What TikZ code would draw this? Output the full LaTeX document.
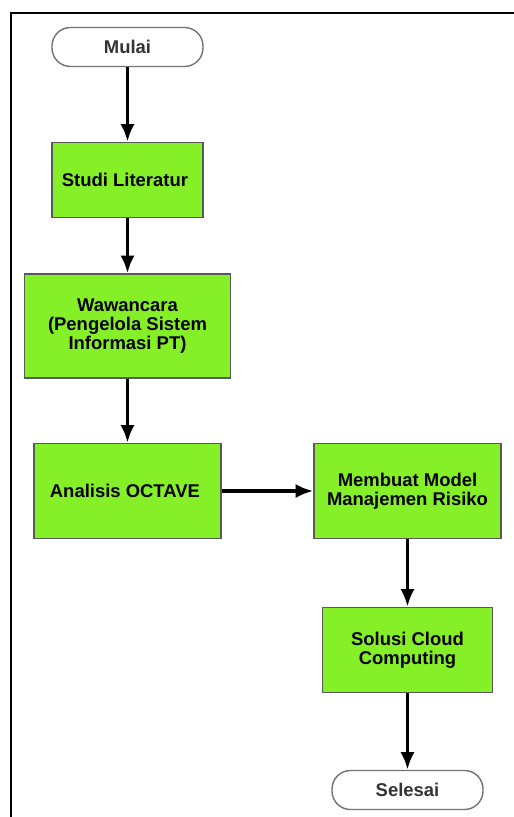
\documentclass[tikz,border=0pt]{standalone}
\usepackage{fontspec}
\setmainfont{Liberation Sans}
\usetikzlibrary{arrows.meta,positioning}
\definecolor{boxgreen}{RGB}{133,240,40}

\begin{document}
\begin{tikzpicture}[
every node/.style={font=\fontsize{10.5}{11}\selectfont\bfseries},
proses/.style={rectangle, fill=boxgreen, draw=black!65, line width=0.8pt, align=center, inner sep=2pt},
terminal/.style={rectangle, rounded corners=0.37cm, fill=white, draw=black!55, line width=0.8pt,
minimum width=3.02cm, minimum height=0.78cm, text=black!80},
panah/.style={-{Latex[length=10pt,width=8pt]}, line width=2pt}]

\useasboundingbox (0,0) rectangle (10.28,-16.34);

% bingkai
\draw[line width=1.2pt] (0.22,-16.34) -- (0.22,-0.26) -- (10.28,-0.26);

\node[terminal] at (2.55, -0.94) (mulai) {Mulai};

\node[proses, minimum width=3.02cm, minimum height=1.5cm] at (2.55, -3.60) (studi) {
Studi Literatur
};

\node[proses, minimum width=4.12cm, minimum height=2.08cm] at (2.55, -6.52) (wawancara) {
Wawancara\\
(Pengelola Sistem\\
Informasi PT)
};

\node[proses, minimum width=3.74cm, minimum height=1.9cm] at (2.55, -9.82) (octave) {
Analisis OCTAVE
};

\node[proses, minimum width=3.74cm, minimum height=1.9cm] at (8.15, -9.82) (model) {
Membuat Model\\
Manajemen Risiko
};

\node[proses, minimum width=3.4cm, minimum height=1.7cm] at (8.15, -13.00) (cloud) {
Solusi Cloud\\
Computing
};

\node[terminal] at (8.15, -15.80) (selesai) {Selesai};


\draw[panah] (mulai.south) -- (studi.north);
\draw[panah] (studi.south) -- (wawancara.north);
\draw[panah] (wawancara.south) -- (octave.north);
\draw[panah] (octave.east) -- (model.west);
\draw[panah] (model.south) -- (cloud.north);
\draw[panah] (cloud.south) -- (selesai.north);

\end{tikzpicture}
\end{document}
